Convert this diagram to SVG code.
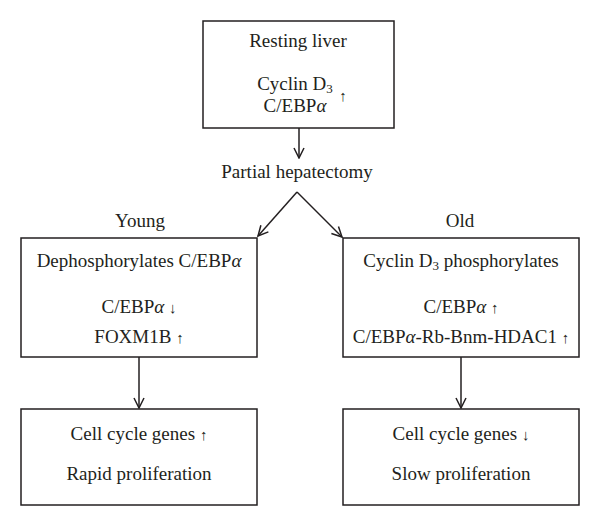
<svg xmlns="http://www.w3.org/2000/svg" width="600" height="526" viewBox="0 0 600 526">
<defs>
<style>
.box{fill:#fff;stroke:#231f20;stroke-width:1.5}
.t{font-family:"Liberation Serif","Times New Roman",serif;font-size:19px;fill:#231f20;text-anchor:middle}
.s{font-size:13px}
.a{font-size:15px}
.c{fill:none;stroke:#231f20;stroke-width:1.5}
</style>
<marker id="ah" viewBox="0 0 12 12" refX="11" refY="6" markerWidth="12" markerHeight="12" markerUnits="userSpaceOnUse" orient="auto">
<path d="M1,1 L11,6 L1,11" fill="none" stroke="#231f20" stroke-width="1.5"/>
</marker>
</defs>
<rect width="600" height="526" fill="#fff"/>
<g id="connectors">
<line class="c" x1="299" y1="128" x2="299" y2="158" marker-end="url(#ah)"/>
<line class="c" x1="297" y1="192" x2="258" y2="236" marker-end="url(#ah)"/>
<line class="c" x1="297" y1="192" x2="342" y2="237" marker-end="url(#ah)"/>
<line class="c" x1="139" y1="357" x2="139" y2="408" marker-end="url(#ah)"/>
<line class="c" x1="461" y1="357" x2="461" y2="408" marker-end="url(#ah)"/>
</g>
<g id="resting">
<rect class="box" x="203" y="21" width="191" height="107"/>
<text class="t" x="298" y="47">Resting liver</text>
<text class="t" x="295" y="90">Cyclin D<tspan class="s" dy="3">3</tspan></text>
<text class="t" x="295" y="112">C/EBP<tspan font-style="italic">α</tspan></text>
<text class="t a" x="343" y="101">↑</text>
</g>
<g id="ph">
<text class="t" x="297" y="178">Partial hepatectomy</text>
</g>
<g id="young-label"><text class="t" x="140" y="227">Young</text></g>
<g id="old-label"><text class="t" x="460" y="227">Old</text></g>
<g id="young">
<rect class="box" x="21" y="238" width="236" height="119"/>
<text class="t" x="139" y="267">Dephosphorylates C/EBP<tspan font-style="italic">α</tspan></text>
<text class="t" x="139" y="313">C/EBP<tspan font-style="italic">α</tspan> <tspan class="a">↓</tspan></text>
<text class="t" x="139" y="343">FOXM1B <tspan class="a">↑</tspan></text>
</g>
<g id="old">
<rect class="box" x="343" y="238" width="236" height="119"/>
<text class="t" x="461" y="267">Cyclin D<tspan class="s" dy="3">3</tspan><tspan dy="-3"> phosphorylates</tspan></text>
<text class="t" x="461" y="313">C/EBP<tspan font-style="italic">α</tspan> <tspan class="a">↑</tspan></text>
<text class="t" x="461" y="343">C/EBP<tspan font-style="italic">α</tspan>-Rb-Bnm-HDAC1 <tspan class="a">↑</tspan></text>
</g>
<g id="rapid">
<rect class="box" x="21" y="409" width="236" height="96"/>
<text class="t" x="139" y="440">Cell cycle genes <tspan class="a">↑</tspan></text>
<text class="t" x="139" y="480">Rapid proliferation</text>
</g>
<g id="slow">
<rect class="box" x="343" y="409" width="236" height="96"/>
<text class="t" x="461" y="440">Cell cycle genes <tspan class="a">↓</tspan></text>
<text class="t" x="461" y="480">Slow proliferation</text>
</g>
</svg>
